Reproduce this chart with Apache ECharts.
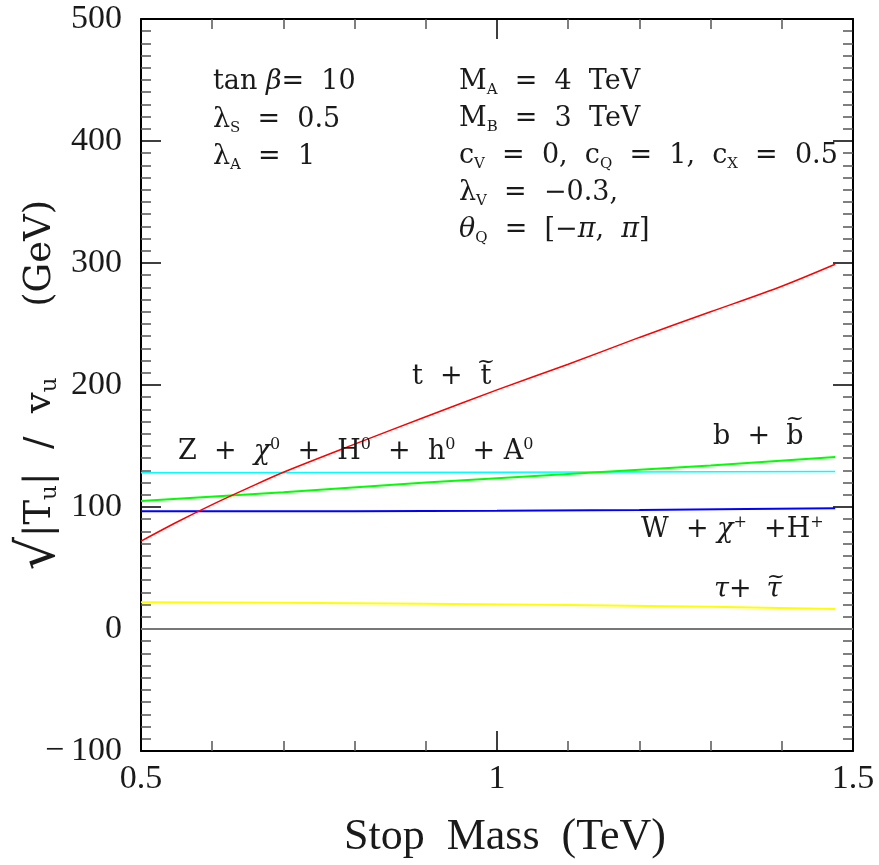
<!DOCTYPE html>
<html><head><meta charset="utf-8">
<script src="https://cdn.jsdelivr.net/npm/echarts@6/dist/echarts.min.js"></script>
<style>html,body{margin:0;padding:0;background:#fff}#c{width:879px;height:865px}</style>
</head><body><div id="c"></div>
<script>
// ---- data ----
const redX = [0.5, 0.55, 0.6, 0.65, 0.7, 0.8, 0.9, 1.0, 1.1, 1.2, 1.3, 1.4, 1.475];
const redY = [72, 87.5, 102, 115.5, 128.5, 151.5, 174, 196, 217, 239, 260, 281, 299];
const greenX = [0.5, 0.7, 0.9, 1.1, 1.3, 1.475];
const greenY = [105, 112, 120, 127, 134, 141];
const cyanX = [0.5, 1.0, 1.475];
const cyanY = [128, 128.5, 129];
const blueX = [0.5, 0.8, 1.0, 1.2, 1.35, 1.475];
const blueY = [96.5, 96.6, 97, 97.5, 98.3, 99];
const yellowX = [0.5, 0.7, 0.9, 1.1, 1.3, 1.475];
const yellowY = [22, 21.6, 20.7, 19.6, 18.2, 16.3];
const zeroX = [0.5, 1.5];
const zeroY = [0, 0];
const xMin = 0.5, xMax = 1.5, xStep = 0.5;
const yMin = -100, yMax = 500, yStep = 100;

const TFONT = '"Liberation Serif", serif';
const AFONT = '"DejaVu Serif", serif';
const zip = (xs, ys) => xs.map((x, i) => [x, ys[i]]);

const baseAxis = {
  type: 'value',
  splitLine: { show: false },
  axisLine: { show: true, onZero: false, lineStyle: { color: '#000', width: 2 } },
  axisTick: { show: true, inside: true, length: 20, lineStyle: { color: '#000', width: 1.5 } },
  minorTick: { show: true, length: 10, lineStyle: { color: '#555', width: 1.5 } },
  axisLabel: { fontFamily: TFONT, fontSize: 34, color: '#1a1a1a' }
};

function xAx(pos, showLabel) {
  return Object.assign({}, baseAxis, {
    position: pos, min: xMin, max: xMax, interval: xStep,
    minorTick: Object.assign({}, baseAxis.minorTick, { splitNumber: 5 }),
    axisLabel: Object.assign({}, baseAxis.axisLabel, { show: showLabel, margin: 11 })
  });
}
function yAx(pos, showLabel) {
  return Object.assign({}, baseAxis, {
    position: pos, min: yMin, max: yMax, interval: yStep,
    minorTick: Object.assign({}, baseAxis.minorTick, { splitNumber: 10 }),
    axisLabel: Object.assign({}, baseAxis.axisLabel, {
      show: showLabel, margin: 19,
      formatter: v => v < 0 ? '\u2212\u2009' + Math.abs(v) : String(v)
    })
  });
}

const rich = {
  s: { fontFamily: AFONT, fontSize: 15, padding: [16, 0, 0, 0] },
  p: { fontFamily: AFONT, fontSize: 16, padding: [0, 0, 14, 0] },
  i: { fontFamily: AFONT, fontSize: 27, fontStyle: 'italic', lineHeight: 32 }
};
function txt(x, y, text, opts) {
  return {
    type: 'text', x: x, y: y, z: 100,
    style: Object.assign({
      text: text, fontFamily: AFONT, fontSize: 27, lineHeight: 32,
      fill: '#1a1a1a', align: 'left', verticalAlign: 'middle', rich: rich
    }, opts || {})
  };
}
// letter with a wide tilde above it
function tilded(cx, cy, ch, italic, dy) {
  return [
    txt(cx, cy, ch, { align: 'center', fontStyle: italic ? 'italic' : 'normal' }),
    txt(cx + (italic ? 2 : 0), cy - dy, '~', { align: 'center', fontSize: 22 })
  ];
}

const chart = echarts.init(document.getElementById('c'), null, { renderer: 'canvas' });
chart.setOption({
  backgroundColor: '#fff',
  animation: false,
  grid: { left: 141, right: 26, top: 19, bottom: 114 },
  xAxis: [
    Object.assign(xAx('bottom', true), {
      name: 'Stop  Mass  (TeV)', nameLocation: 'middle', nameGap: 64,
      nameTextStyle: { fontFamily: TFONT, fontSize: 44, color: '#1a1a1a', padding: [0, 0, 0, 16] }
    }),
    xAx('top', false)
  ],
  yAxis: [yAx('left', true), yAx('right', false)],
  series: [
    { type: 'line', data: zip(zeroX, zeroY), showSymbol: false, lineStyle: { color: '#777', width: 2 } },
    { type: 'line', data: zip(yellowX, yellowY), showSymbol: false, lineStyle: { color: '#ffff00', width: 2 } },
    { type: 'line', data: zip(blueX, blueY), showSymbol: false, lineStyle: { color: '#0000ff', width: 2 } },
    { type: 'line', data: zip(cyanX, cyanY), showSymbol: false, lineStyle: { color: '#00ffff', width: 1.5 } },
    { type: 'line', data: zip(greenX, greenY), showSymbol: false, lineStyle: { color: '#00ff00', width: 2 } },
    { type: 'line', data: zip(redX, redY), showSymbol: false, smooth: 0.3, lineStyle: { color: '#ff0000', width: 1.5 } }
  ],
  graphic: [
    txt(213, 82, 'tan {i|β}=  10'),
    txt(213, 120, 'λ{s|S}  =  0.5'),
    txt(213, 157, 'λ{s|A}  =  1'),
    txt(459, 82, 'M{s|A}  =  4  TeV'),
    txt(459, 119, 'M{s|B}  =  3  TeV'),
    txt(459, 156, 'c{s|V}  =  0,  c{s|Q}  =  1,  c{s|X}  =  0.5'),
    txt(459, 193, 'λ{s|V}  =  \u22120.3,'),
    txt(459, 230, '{i|θ}{s|Q}  =  [\u2212{i|π},  {i|π}]'),
    txt(412, 377, 't  +'),
    ...tilded(486, 377, 't', false, 15),
    txt(178, 452, 'Z  +  {i|χ}{p|0}  +  H{p|0}  +  h{p|0}  + A{p|0}'),
    txt(713, 437, 'b  +'),
    ...tilded(795, 437, 'b', false, 18),
    txt(641, 530, 'W  + {i|χ}{p|+}  +H{p|+}'),
    txt(714, 590, '{i|τ}+'),
    ...tilded(774, 590, 'τ', true, 13),
    {
      type: 'text', x: 40, y: 385, rotation: Math.PI / 2, z: 100,
      style: {
        text: '{r|√}|T{s2|u}|  /  v{s2|u}      (GeV)', fontFamily: AFONT, fontSize: 37, lineHeight: 46,
        fill: '#1a1a1a', align: 'center', verticalAlign: 'middle',
        rich: {
          r: { fontFamily: AFONT, fontSize: 52, lineHeight: 46 },
          s2: { fontFamily: AFONT, fontSize: 23, padding: [20, 0, 0, 0] }
        }
      }
    }
  ]
});
</script>
</body></html>
